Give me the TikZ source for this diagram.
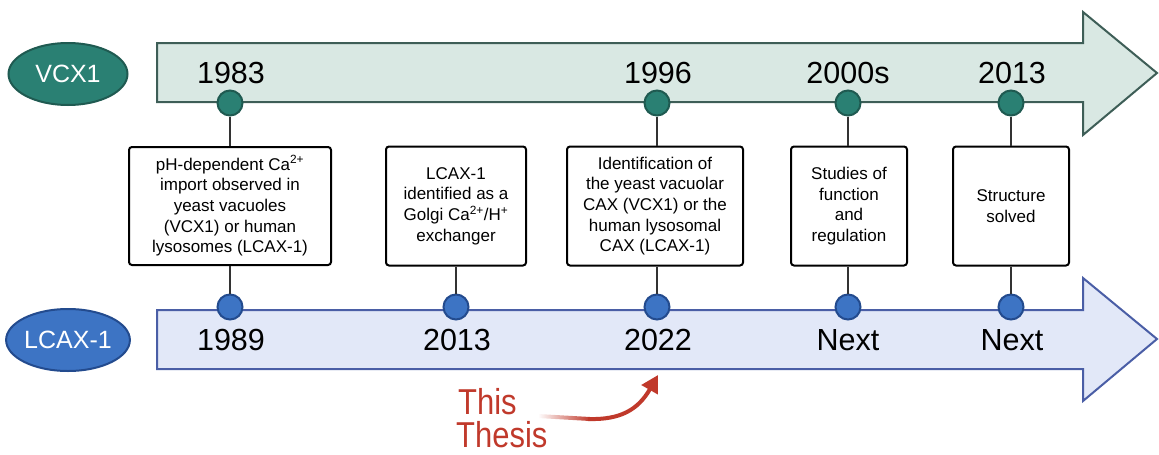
\documentclass[tikz,border=0pt]{standalone}
\usepackage{fontspec}
\setmainfont{Liberation Sans}
\newfontfamily\thesisfont[FakeStretch=0.86]{Liberation Sans}
\usetikzlibrary{shapes.geometric,arrows.meta,fadings}
\definecolor{tealfill}{HTML}{2A8073}
\definecolor{tealdark}{HTML}{1F5A51}
\definecolor{teallight}{HTML}{D9E8E3}
\definecolor{tealedge}{HTML}{3E5E57}
\definecolor{bluefill}{HTML}{3D74C4}
\definecolor{bluedark}{HTML}{234B8E}
\definecolor{bluelight}{HTML}{E2E8F8}
\definecolor{blueedge}{HTML}{4A5EA6}
\definecolor{thesisred}{HTML}{C0392B}
\tikzset{
  dotT/.style={circle,draw=tealdark,fill=tealfill,line width=2pt,minimum size=25pt,inner sep=0pt},
  dotB/.style={circle,draw=bluedark,fill=bluefill,line width=2pt,minimum size=25pt,inner sep=0pt},
  yearlbl/.style={font=\fontsize{30.5}{32}\selectfont,anchor=base,inner sep=0pt},
  evbox/.style={draw=black,fill=white,line width=2pt,rounded corners=3pt,align=center,
    font=\fontsize{17}{20.7}\selectfont,inner sep=0pt},
  conn/.style={draw=black!80,line width=2pt},
  tag/.style={ellipse,minimum width=119pt,minimum height=62pt,line width=2pt,text=white,
    font=\fontsize{25}{28}\selectfont,inner sep=0pt},
  thesislbl/.style={text=thesisred,font=\thesisfont\fontsize{36}{36}\selectfont,inner sep=0pt,anchor=base west}
}
\begin{document}
\begin{tikzpicture}[x=1pt,y=-1pt]
\useasboundingbox (0,0) rectangle (1159,455);
% arrows
\draw[fill=teallight,draw=tealedge,line width=2pt,line join=miter]
  (157,43)--(1083,43)--(1083,12)--(1157,73)--(1083,135)--(1083,102)--(157,102)--cycle;
\draw[fill=bluelight,draw=blueedge,line width=2pt,line join=miter]
  (157,310)--(1083,310)--(1083,278)--(1157,339)--(1083,401)--(1083,369)--(157,369)--cycle;
% tags
\node[tag,fill=tealfill,draw=tealdark] (vcx) at (68,74) {VCX1};
\node[tag,fill=bluefill,draw=bluedark] (lcax) at (68,340) {LCAX-1};
% year labels
\node[yearlbl] (y1983) at (231,83) {1983};
\node[yearlbl] (y1996) at (658,83) {1996};
\node[yearlbl] (y2000) at (848,83) {2000s};
\node[yearlbl] (y2013t) at (1012,83) {2013};
\node[yearlbl] (y1989) at (231,350) {1989};
\node[yearlbl] (y2013b) at (457,350) {2013};
\node[yearlbl] (y2022) at (658,350) {2022};
\node[yearlbl] (n1) at (848,350) {Next};
\node[yearlbl] (n2) at (1012,350) {Next};
% boxes
\node[evbox,minimum width=202pt,minimum height=118pt] (b1) at (230,206)
  {pH-dependent Ca\textsuperscript{2+}\\import observed in\\yeast vacuoles\\(VCX1) or human\\lysosomes (LCAX-1)};
\node[evbox,minimum width=140pt,minimum height=119pt] (b2) at (456,206)
  {LCAX-1\\identified as a\\Golgi Ca\textsuperscript{2+}/H\textsuperscript{+}\\exchanger};
\node[evbox,minimum width=176pt,minimum height=119pt] (b3) at (655,206)
  {Identification of\\the yeast vacuolar\\CAX (VCX1) or the\\human lysosomal\\CAX (LCAX-1)};
\node[evbox,minimum width=116pt,minimum height=119pt] (b4) at (849,206)
  {Studies of\\function\\and\\regulation};
\node[evbox,minimum width=116pt,minimum height=119pt] (b5) at (1011,206)
  {Structure\\solved};
% dots
\node[dotT] (t1) at (230,103) {};
\node[dotT] (t3) at (657,103) {};
\node[dotT] (t4) at (848,103) {};
\node[dotT] (t5) at (1011,103) {};
\node[dotB] (d1) at (230,307) {};
\node[dotB] (d2) at (456,307) {};
\node[dotB] (d3) at (657,307) {};
\node[dotB] (d4) at (848,307) {};
\node[dotB] (d5) at (1011,307) {};
% connectors
\draw[conn] (t1) -- (t1 |- b1.north);
\draw[conn] (t1 |- b1.south) -- (d1);
\draw[conn] (d2) -- (d2 |- b2.south);
\draw[conn] (t3) -- (t3 |- b3.north);
\draw[conn] (t3 |- b3.south) -- (d3);
\draw[conn] (t4) -- (t4 |- b4.north);
\draw[conn] (t4 |- b4.south) -- (d4);
\draw[conn] (t5) -- (t5 |- b5.north);
\draw[conn] (t5 |- b5.south) -- (d5);
% This Thesis
\node[thesislbl] (this) at (458,414) {This};
\node[thesislbl] (thesis) at (456,447) {Thesis};
\coordinate (curvestart) at (588,419);
\coordinate (tgt) at (658,375);
\path[fill=thesisred,path fading=west] (538,414) -- (590,417) -- (590,421) -- (538,418) -- cycle;
\draw[draw=thesisred,line width=4pt,-{Triangle[length=17pt,width=18pt]}]
  (curvestart) .. controls (620,420) and (638,410) .. (tgt);
\end{tikzpicture}
\end{document}
